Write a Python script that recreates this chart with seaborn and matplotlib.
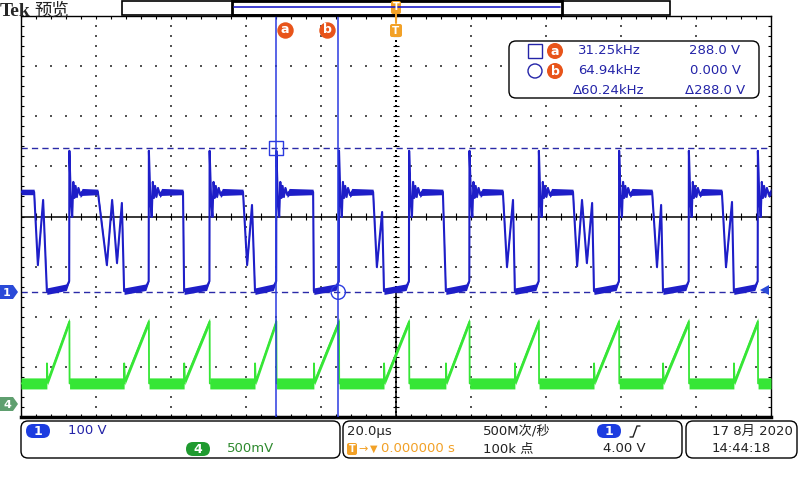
import numpy as np
import pandas as pd
import matplotlib
matplotlib.use("Agg")
import matplotlib.pyplot as plt
import seaborn as sns
from matplotlib.patches import FancyBboxPatch, Rectangle, Circle, Polygon

# ---------------- scope settings ----------------
time_per_div_us = 20.0
ch1_volts_per_div = 100.0
ch4_volts_per_div = 0.5
ch1_ground_div = -1.51
ch4_ground_div = -3.75

# ---------------- channel 1 (blue) switching node ----------------
ch1_rise_us = [-87.1, -65.9, -49.7, -31.9, -15.2, 3.5, 19.6, 38.1, 59.5, 78.1, 96.5]
ch1_fall_us = [-96.5, -79.5, -56.8, -40.8, -22.1, -6.1, 12.5, 28.5, 47.2, 68.3, 86.9]
ch1_low_us = [-93.1, -72.5, -56.5, -37.6, -21.9, -3.2, 13.3, 31.7, 52.8, 71.2, 90.1]
ch1_dip_t_us = [[-95.5, -94.1], [-77.1, -75.7, -74.4, -73.1], [], [-39.7, -38.4], [],
                [-5.1, -3.7], [], [29.6, 31.2], [48.3, 49.6, 50.9, 52.3], [69.6, 70.7], [88.0, 89.6]]
ch1_dip_v = [[54, 184], [54, 184, 58, 178], [], [54, 174], [],
             [50, 160], [], [50, 184], [52, 184, 58, 178], [50, 174], [50, 180]]
ch1_high_v = 200.0
ch1_low_start_v = 2.0
ch1_low_end_v = 10.0
ch1_pre_rise_v = 22.0
ring_dt_us = [0.0, 0.4, 0.75, 1.05, 1.35, 1.65, 2.0, 2.4, 2.9, 3.4]
ring_v = [282, 184, 150, 220, 188, 212, 190, 208, 194, 200]
ring_hw_v = [1, 1, 1, 1, 1, 2, 2, 3, 5, 7]
ch1_high_hw_v = 5.5
ch1_low_hw_v = 6.5
ch1_dip_hw_v = 3.0

# ---------------- channel 4 (green) current ramp ----------------
ch4_base_v = 0.21
ch4_peak_v = 0.83
ch4_kick_v = 0.41
ch4_base_hw_v = 0.055
ch4_ramp_hw_v = 0.035

# ---------------- cursors / readouts ----------------
cursor_a_us = -32.0
cursor_b_us = -15.4
cursor_a_v = 288.0
cursor_b_v = 0.0
trigger_level_v = 4.0
readout_freq = ["31.25kHz", "64.94kHz", "Δ60.24kHz"]
readout_volt = ["288.0 V", "0.000 V", "Δ288.0 V"]
ch1_scale_txt = "100 V"
ch4_scale_txt = "500mV"
timebase_txt = "20.0µs"
trig_pos_txt = "0.000000 s"
rate_txt = "500M次/秒"
points_txt = "100k 点"
trig_level_txt = "4.00 V"
date_txt = "17 8月 2020"
time_txt = "14:44:18"

BLUE = "#1e1ec8"
CURSOR = "#2b3be0"
GREEN = "#36e636"
ORANGE = "#e8541a"
TORANGE = "#f2a127"
TXTBLUE = "#2424a8"

sns.set_theme(style="white")
plt.rcParams["font.family"] = ["DejaVu Sans", "Noto Sans CJK SC"]


def build_ch1():
    rows = []
    rows.append((-100.0, ch1_high_v, ch1_high_hw_v))
    for i in range(len(ch1_rise_us)):
        rows.append((ch1_fall_us[i], ch1_high_v, ch1_high_hw_v))
        for tt, vv in zip(ch1_dip_t_us[i], ch1_dip_v[i]):
            rows.append((tt, vv, ch1_dip_hw_v))
        rows.append((ch1_low_us[i], ch1_low_start_v, ch1_low_hw_v))
        rows.append((ch1_rise_us[i] - 0.8, ch1_low_end_v, ch1_low_hw_v))
        rows.append((ch1_rise_us[i] - 0.05, ch1_pre_rise_v, 1.5))
        for dt, vv, hh in zip(ring_dt_us, ring_v, ring_hw_v):
            rows.append((ch1_rise_us[i] + dt, vv, hh))
    rows.append((100.0, ch1_high_v, ch1_high_hw_v))
    df = pd.DataFrame(rows, columns=["t", "v", "hw"])
    df["y"] = df.v / ch1_volts_per_div + ch1_ground_div
    df["lo"] = (df.v - df.hw) / ch1_volts_per_div + ch1_ground_div
    df["hi"] = (df.v + df.hw) / ch1_volts_per_div + ch1_ground_div
    return df


def build_ch4():
    rows = [(-100.0, ch4_base_v, ch4_base_hw_v)]
    for lo_t, r_t in zip(ch1_low_us, ch1_rise_us):
        rows.append((lo_t, ch4_base_v, ch4_base_hw_v))
        rows.append((lo_t + 0.02, ch4_kick_v, 0.004))
        rows.append((lo_t + 0.2, ch4_base_v + 0.02, ch4_ramp_hw_v))
        rows.append((r_t, ch4_peak_v, ch4_ramp_hw_v))
        rows.append((r_t + 0.05, ch4_base_v, ch4_base_hw_v))
    rows.append((100.0, ch4_base_v, ch4_base_hw_v))
    df = pd.DataFrame(rows, columns=["t", "v", "hw"])
    df["y"] = df.v / ch4_volts_per_div + ch4_ground_div
    df["lo"] = (df.v - df.hw) / ch4_volts_per_div + ch4_ground_div
    df["hi"] = (df.v + df.hw) / ch4_volts_per_div + ch4_ground_div
    return df


df1 = build_ch1()
df4 = build_ch4()

fig = plt.figure(figsize=(8, 4.8), dpi=100)
fig.patch.set_facecolor("white")
ax = fig.add_axes([21 / 800, 63 / 480, 750 / 800, 401 / 480], zorder=1)
ax.set_facecolor("white")
xmin, xmax = -5 * time_per_div_us, 5 * time_per_div_us

# graticule
minor_x = np.linspace(xmin, xmax, 51)
minor_y = np.linspace(-4, 4, 41)
fine_y = np.linspace(-4, 4, 81)
gc = "#555555"
for k in [-3, -2, -1, 1, 2, 3]:
    ax.scatter(minor_x, np.full(minor_x.size, k), s=1.5, marker="s", color=gc, lw=0, zorder=1)
for k in [-4, -3, -2, -1, 1, 2, 3, 4]:
    ax.scatter(np.full(minor_y.size, k * time_per_div_us), minor_y, s=1.5, marker="s", color=gc, lw=0, zorder=1)
ax.axhline(0, color="black", lw=1.1, zorder=1.5)
ax.vlines(minor_x, -0.07, 0.07, color="black", lw=0.8, zorder=1.5)
ax.hlines(minor_y, -0.9, 0.9, color="black", lw=0.8, zorder=1.5)
ax.scatter(np.zeros(fine_y.size), fine_y, s=1.5, marker="s", color="black", lw=0, zorder=1.5)
ax.vlines(0, -4, ch1_ground_div, color="black", lw=1.1, zorder=1.5)
ax.hlines(minor_y, xmin, xmin + 0.8, color="black", lw=0.8)
ax.hlines(minor_y, xmax - 0.8, xmax, color="black", lw=0.8)
ax.vlines(minor_x, 3.94, 4, color="black", lw=0.8)
ax.vlines(minor_x, -4, -3.94, color="black", lw=0.8)

# cursor level lines
ya = cursor_a_v / ch1_volts_per_div + ch1_ground_div
yb = cursor_b_v / ch1_volts_per_div + ch1_ground_div
ax.axhline(ya, color="#2a2aa8", lw=1.0, ls=(0, (4.5, 3)), zorder=2)
ax.axhline(yb, color="#2a2aa8", lw=1.0, ls=(0, (4.5, 3)), zorder=2)

# traces
ax.fill_between(df4.t, df4.lo, df4.hi, color=GREEN, lw=0, zorder=3)
sns.lineplot(data=df4, x="t", y="y", sort=False, estimator=None, color=GREEN, lw=1.3, ax=ax, zorder=3.5)
ax.fill_between(df1.t, df1.lo, df1.hi, color=BLUE, lw=0, zorder=4)
sns.lineplot(data=df1, x="t", y="y", sort=False, estimator=None, color=BLUE, lw=1.5, ax=ax, zorder=4.5)

# cursors
ax.axvline(cursor_a_us, color=CURSOR, lw=1.1, zorder=6)
ax.axvline(cursor_b_us, color=CURSOR, lw=1.1, zorder=6)
ax.scatter([cursor_a_us], [ya], marker="s", s=105, facecolor="none", edgecolor=CURSOR, lw=1.0, zorder=7)
ax.scatter([cursor_b_us], [yb], marker="o", s=105, facecolor="none", edgecolor=CURSOR, lw=1.0, zorder=7)
ax.scatter([cursor_a_us + 2.4, cursor_b_us - 3.0], [3.73, 3.73], s=140, color=ORANGE, lw=0, zorder=7)
ax.text(cursor_a_us + 2.4, 3.73, "a", color="white", ha="center", va="center", fontsize=9, fontweight="bold", zorder=8)
ax.text(cursor_b_us - 3.0, 3.73, "b", color="white", ha="center", va="center", fontsize=9, fontweight="bold", zorder=8)

ax.set_xlim(xmin, xmax)
ax.set_ylim(-4, 4)
ax.set_xticks([])
ax.set_yticks([])
ax.set_xlabel("")
ax.set_ylabel("")
for s in ax.spines.values():
    s.set_visible(True)
    s.set_color("black")
    s.set_linewidth(1.0)
ax.spines["bottom"].set_linewidth(2.5)

# ---------------- overlay (screen furniture, pixel coordinates) ----------------
ov = fig.add_axes([0, 0, 1, 1], zorder=5)
ov.set_xlim(0, 800)
ov.set_ylim(480, 0)
ov.axis("off")
ov.patch.set_alpha(0)


def rbox(x, y, w, h, r, fc="white", ec="black", lw=1.0):
    ov.add_patch(FancyBboxPatch((x, y), w, h, boxstyle=f"round,pad=0,rounding_size={r}",
                                fc=fc, ec=ec, lw=lw))


def badge(cx, cy, txt, fc, w=24, h=14):
    rbox(cx - w / 2, cy - h / 2, w, h, h / 2, fc=fc, ec="none", lw=0)
    ov.text(cx, cy + 0.5, txt, color="white", ha="center", va="center", fontsize=9, fontweight="bold")


# title
ov.text(0, 11, "Tek", fontsize=14, fontweight="bold", family="Liberation Serif", va="center", ha="left")
ov.text(34, 11, "预览", fontsize=12.5, family=["Noto Sans CJK SC"], va="center", ha="left", color="#222222")

# record bar
ov.add_patch(Rectangle((122, 0.5), 548, 14.5, fill=False, ec="black", lw=1.2))
ov.add_patch(Rectangle((232, 0.5), 330, 14.5, fill=False, ec="black", lw=2.0))
ov.plot([234, 560], [7, 7], color=BLUE, lw=1.2)

# trigger position markers
rbox(391, 1, 10, 13, 2, fc=TORANGE, ec="none")
ov.text(396, 7.5, "T", color="white", ha="center", va="center", fontsize=7, fontweight="bold")
ov.plot([396, 396], [14, 23], color=TORANGE, lw=1.5)
rbox(390, 24, 12, 13, 2, fc=TORANGE, ec="none")
ov.text(396, 30.5, "T", color="white", ha="center", va="center", fontsize=7.5, fontweight="bold")

# channel ground markers
ov.add_patch(Polygon([(0, 285), (13, 285), (18, 292), (13, 299), (0, 299)], closed=True, fc="#2a4ad8", ec="none"))
ov.text(7, 292.5, "1", color="white", ha="center", va="center", fontsize=8, fontweight="bold")
ov.add_patch(Polygon([(0, 397), (13, 397), (18, 404), (13, 411), (0, 411)], closed=True, fc="#5f9f6f", ec="none"))
ov.text(7, 404.5, "4", color="white", ha="center", va="center", fontsize=8, fontweight="bold")
# trigger level arrow
ty = 216.5 - (trigger_level_v / ch1_volts_per_div + ch1_ground_div) * 50
ov.add_patch(Polygon([(760, ty), (769, ty - 5), (769, ty + 5)], closed=True, fc="#2a4ad8", ec="none"))

# cursor readout box
rbox(509, 41, 250, 57, 7, fc="white", ec="black", lw=1.0)
rows_y = [51, 71, 90]
ov.add_patch(Rectangle((528, 44), 14, 14, fill=False, ec=TXTBLUE, lw=1.0))
ov.add_patch(Circle((535, 71), 7, fill=False, ec=TXTBLUE, lw=1.0))
for yy, lab in zip(rows_y[:2], ["a", "b"]):
    ov.add_patch(Circle((555, yy), 8, fc=ORANGE, ec="none"))
    ov.text(555, yy + 0.5, lab, color="white", ha="center", va="center", fontsize=9, fontweight="bold")
for yy, f, v in zip(rows_y, readout_freq, readout_volt):
    ov.text(609, yy, f, color=TXTBLUE, ha="center", va="center", fontsize=9.5)
    ov.text(715, yy, v, color=TXTBLUE, ha="center", va="center", fontsize=9.5)

# bottom status bar
rbox(21, 421, 319, 37, 7)
rbox(343, 421, 339, 37, 7)
rbox(686, 421, 111, 37, 7)
badge(38, 431, "1", "#1c3ce0")
ov.text(68, 431, ch1_scale_txt, color=TXTBLUE, ha="left", va="center", fontsize=9.5)
badge(198, 449, "4", "#1f9a2f")
ov.text(227, 449, ch4_scale_txt, color="#2f8a2f", ha="left", va="center", fontsize=9.5)

ov.text(347, 431, timebase_txt, color="#222222", ha="left", va="center", fontsize=9.5)
rbox(347, 443, 10, 12, 2, fc=TORANGE, ec="none")
ov.text(352, 449.5, "T", color="white", ha="center", va="center", fontsize=7, fontweight="bold")
ov.text(358, 449, "→", color=TORANGE, ha="left", va="center", fontsize=8)
ov.text(370, 449, "▼", color=TORANGE, ha="left", va="center", fontsize=7)
ov.text(381, 449, trig_pos_txt, color=TORANGE, ha="left", va="center", fontsize=9.5)
ov.text(483, 431, rate_txt, color="#222222", ha="left", va="center", fontsize=9.5)
ov.text(483, 449, points_txt, color="#222222", ha="left", va="center", fontsize=9.5)
badge(609, 431, "1", "#1c3ce0")
ov.plot([630, 633, 637, 640], [437, 437, 426, 426], color="#222222", lw=1.0)
ov.text(624, 449, trig_level_txt, color="#222222", ha="center", va="center", fontsize=9.5)
ov.text(712, 431, date_txt, color="#222222", ha="left", va="center", fontsize=9.5)
ov.text(712, 449, time_txt, color="#222222", ha="left", va="center", fontsize=9.5)

fig.savefig("out.png", dpi=100, facecolor="white")
